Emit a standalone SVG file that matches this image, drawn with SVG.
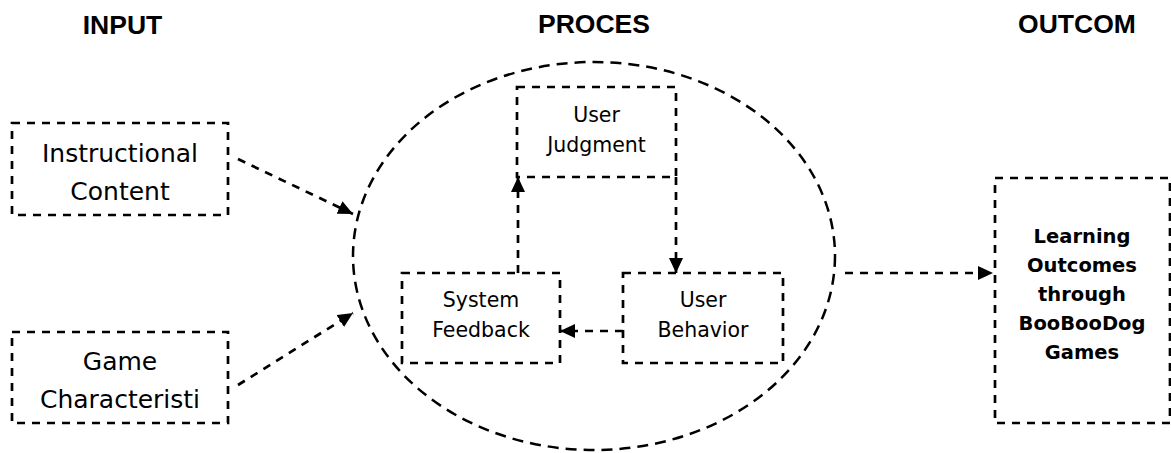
<svg xmlns="http://www.w3.org/2000/svg" width="1171" height="453" viewBox="0 0 1171 453">
<style>
.box{fill:none;stroke:#000;stroke-width:2.7;stroke-dasharray:8 7}
.ell{fill:none;stroke:#000;stroke-width:2.5;stroke-dasharray:11 7}
.con{fill:none;stroke:#000;stroke-width:2.7;stroke-dasharray:8 7}
.hd{font-family:"Liberation Sans",Arial,sans-serif;font-weight:bold;font-size:26.5px;fill:#000;text-anchor:middle}
.big{font-family:"DejaVu Sans",sans-serif;font-size:25px;fill:#000;text-anchor:middle}
.sm{font-family:"DejaVu Sans",sans-serif;font-size:20.5px;fill:#000;text-anchor:middle}
.bd{font-family:"DejaVu Sans",sans-serif;font-weight:bold;font-size:19.5px;fill:#000;text-anchor:middle}
</style>
<defs>
<marker id="ah" markerUnits="userSpaceOnUse" markerWidth="16" markerHeight="14" refX="15" refY="7" orient="auto">
<path d="M0,0 L15,7 L0,14 Z" fill="#000"/>
</marker>
</defs>
<rect width="1171" height="453" fill="#fff"/>
<g id="headers">
<text class="hd" x="122.5" y="34">INPUT</text>
<text class="hd" x="594" y="33">PROCES</text>
<text class="hd" x="1077" y="33">OUTCOM</text>
</g>
<g id="process">
<ellipse class="ell" cx="594" cy="256" rx="241" ry="194"/>
</g>
<g id="instructional-content">
<rect class="box" x="12" y="123" width="216" height="92"/>
<text class="big" x="120" y="162">Instructional</text>
<text class="big" x="120" y="200">Content</text>
</g>
<g id="game-characteristics">
<rect class="box" x="12" y="332" width="216" height="91"/>
<text class="big" x="120" y="370">Game</text>
<text class="big" x="120" y="408">Characteristi</text>
</g>
<g id="user-judgment">
<rect class="box" x="517" y="87" width="159" height="90"/>
<text class="sm" x="596.5" y="122">User</text>
<text class="sm" x="596.5" y="152">Judgment</text>
</g>
<g id="system-feedback">
<rect class="box" x="402" y="273" width="158" height="90"/>
<text class="sm" x="481" y="307">System</text>
<text class="sm" x="481" y="337">Feedback</text>
</g>
<g id="user-behavior">
<rect class="box" x="623" y="273" width="160" height="90"/>
<text class="sm" x="703" y="307">User</text>
<text class="sm" x="703" y="337">Behavior</text>
</g>
<g id="learning-outcomes">
<rect class="box" x="995" y="178" width="175" height="245"/>
<text class="bd" x="1082" y="243">Learning</text>
<text class="bd" x="1082" y="272">Outcomes</text>
<text class="bd" x="1082" y="301">through</text>
<text class="bd" x="1082" y="330">BooBooDog</text>
<text class="bd" x="1082" y="359">Games</text>
</g>
<g id="connectors">
<line class="con" x1="238" y1="159" x2="353" y2="214" marker-end="url(#ah)"/>
<line class="con" x1="238" y1="385" x2="353" y2="313" marker-end="url(#ah)"/>
<line class="con" x1="518" y1="273" x2="518" y2="177" marker-end="url(#ah)"/>
<line class="con" x1="676" y1="177" x2="676" y2="273" marker-end="url(#ah)"/>
<line class="con" x1="623" y1="331" x2="560" y2="331" marker-end="url(#ah)"/>
<line class="con" x1="845" y1="273" x2="993" y2="273" marker-end="url(#ah)"/>
</g>
</svg>
